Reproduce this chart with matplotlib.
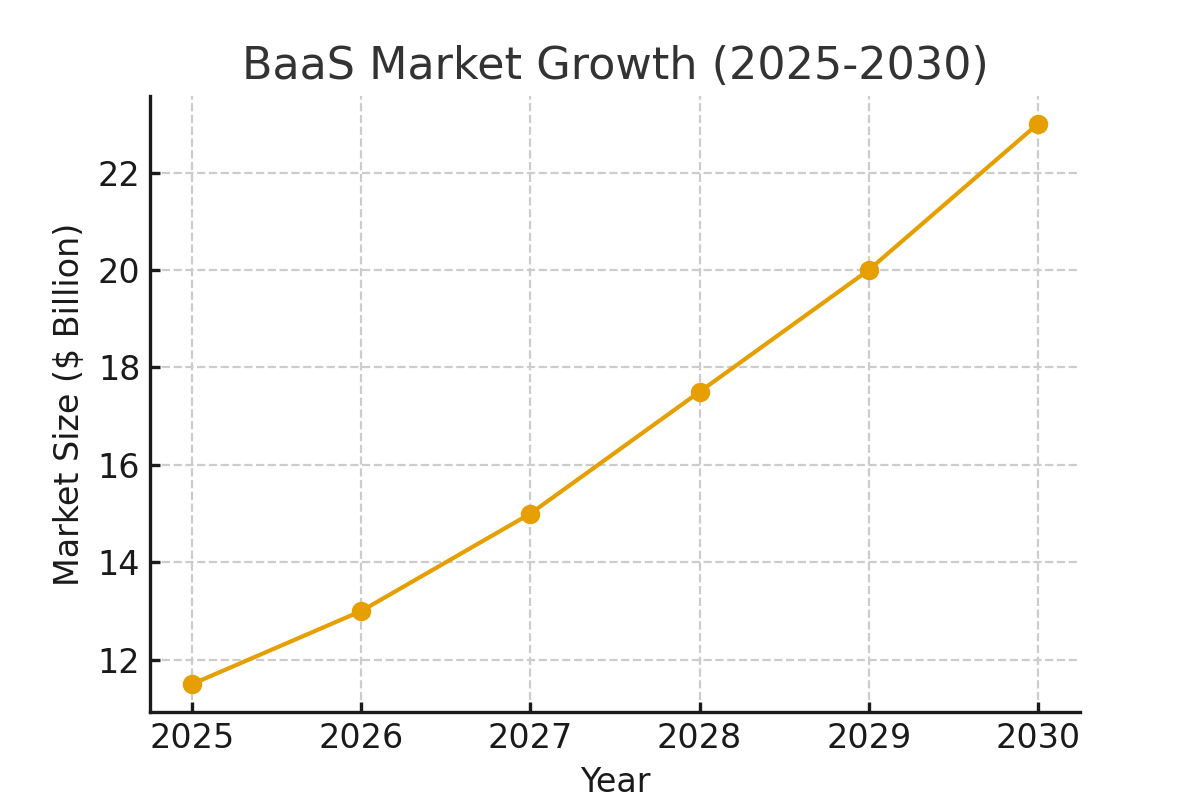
import matplotlib
matplotlib.use("Agg")
from matplotlib import pyplot as plt

years = [2025, 2026, 2027, 2028, 2029, 2030]
market_size = [11.5, 13, 15, 17.5, 20, 23]

fig, ax = plt.subplots(figsize=(6, 4), dpi=200)

ax.plot(years, market_size, marker="o", color="#E69F00", linewidth=1.5, markersize=6)

ax.set_title("BaaS Market Growth (2025-2030)", fontsize=16, color="#333333")
ax.set_xlabel("Year", fontsize=12, color="#1a1a1a")
ax.set_ylabel("Market Size ($ Billion)", fontsize=12, color="#1a1a1a")
ax.set_xticks(years)
ax.tick_params(axis="both", direction="in", labelsize=12, colors="#1a1a1a", width=1.2)

ax.grid(True, linestyle="--", color="#cccccc", linewidth=0.8)
ax.spines["top"].set_visible(False)
ax.spines["right"].set_visible(False)
for side in ["left", "bottom"]:
    ax.spines[side].set_linewidth(1.2)
    ax.spines[side].set_color("#1a1a1a")

plt.savefig("out.png")
plt.close()
